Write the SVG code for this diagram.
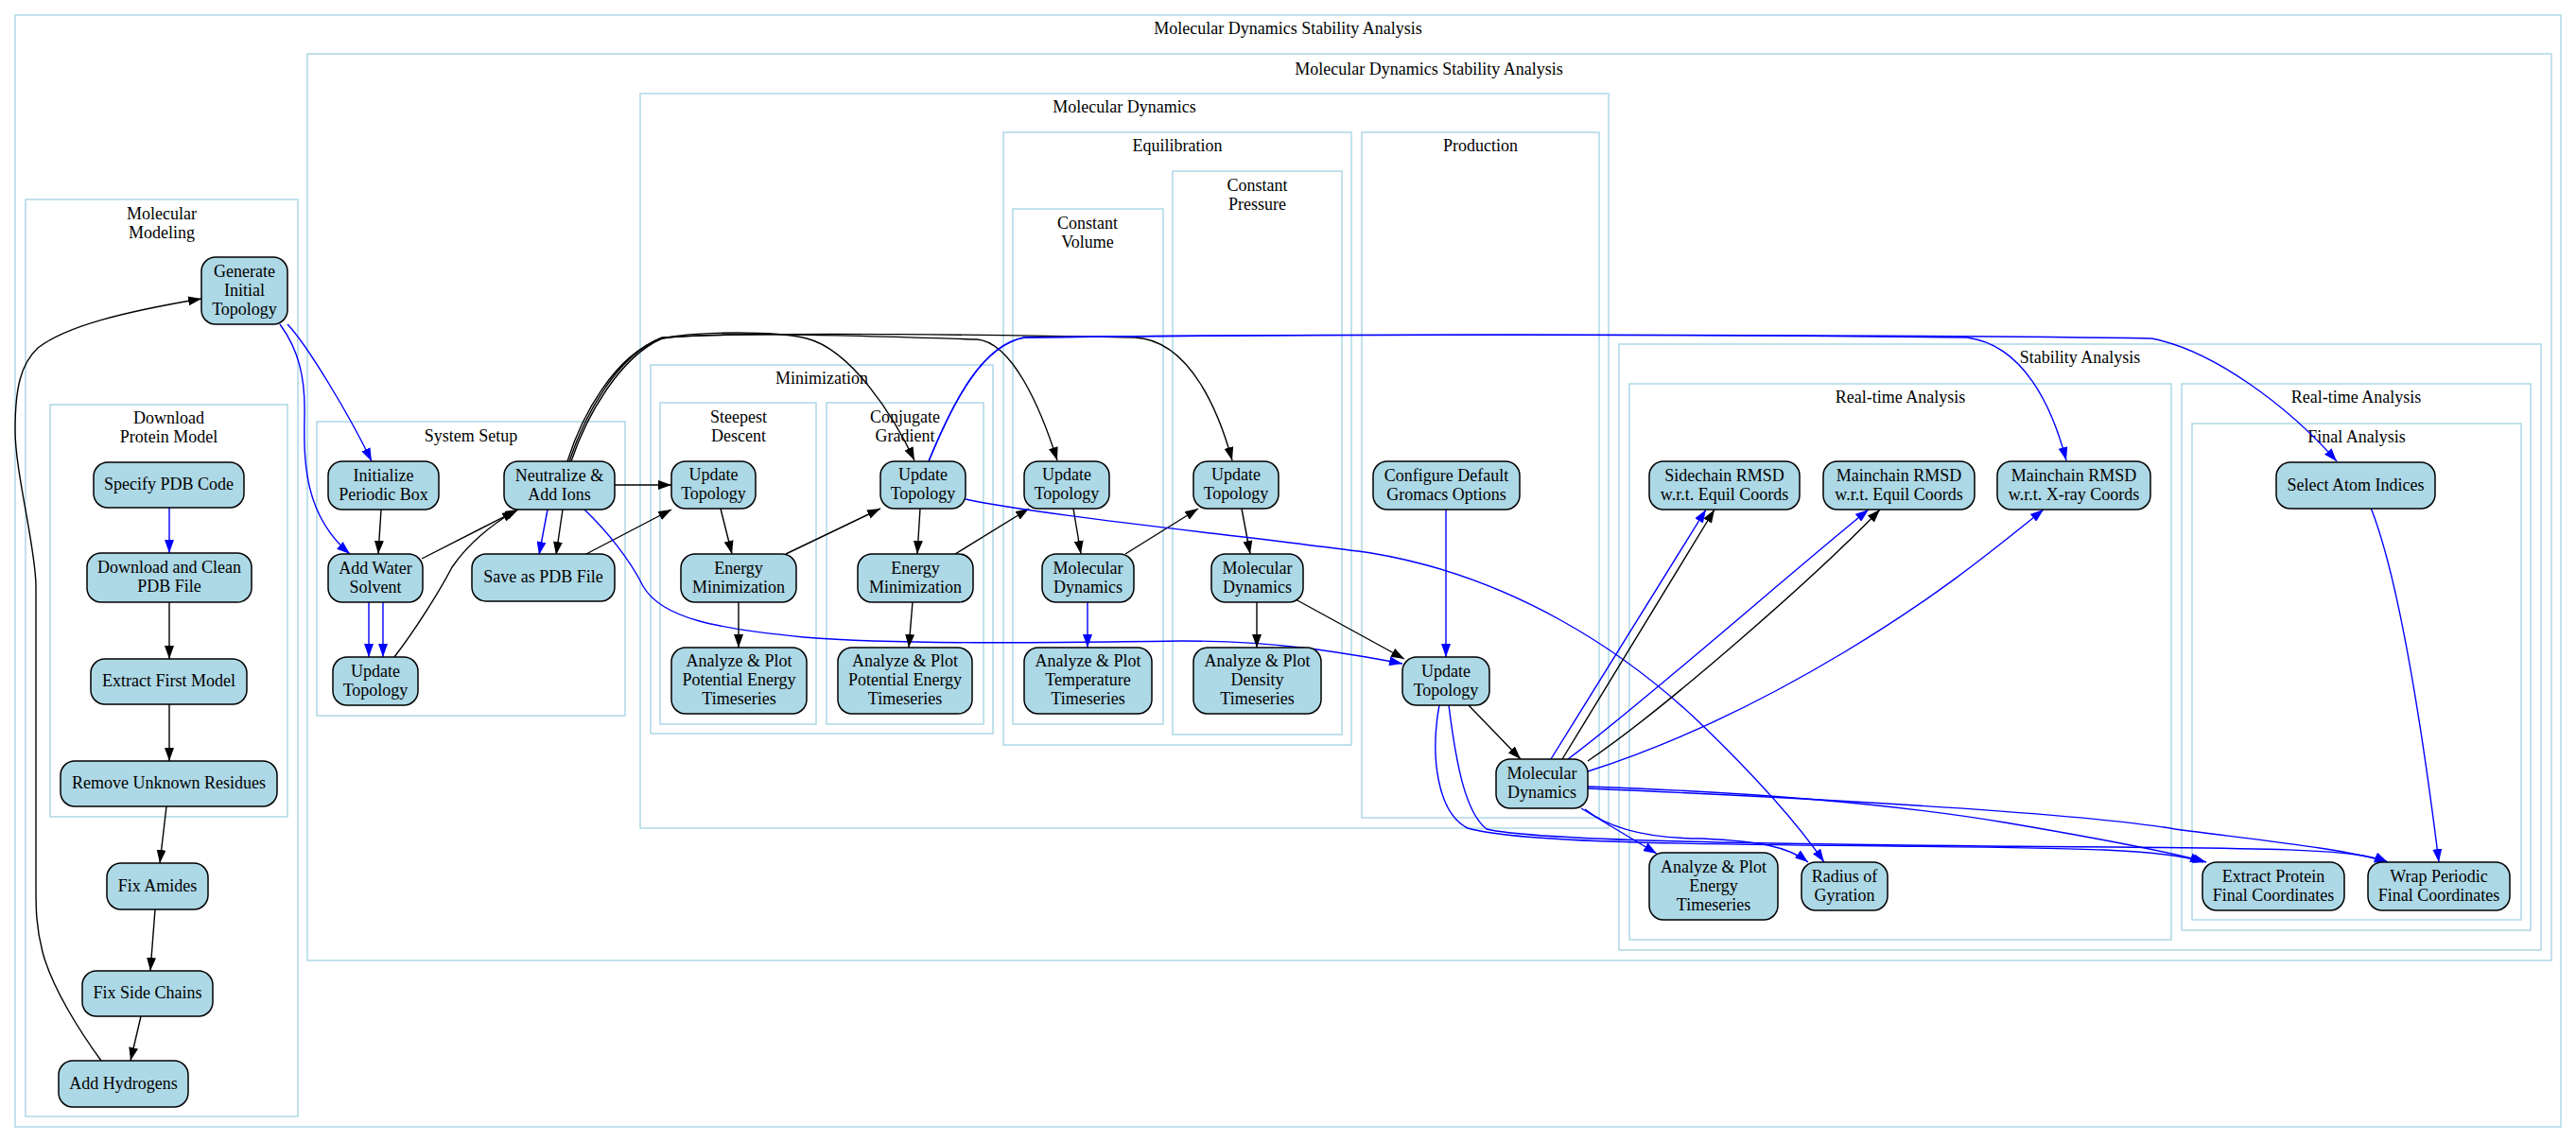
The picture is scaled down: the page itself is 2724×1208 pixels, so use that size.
<svg xmlns="http://www.w3.org/2000/svg" width="2724" height="1208" viewBox="0 0 2724 1208">
<defs>
<style>
.cl{fill:none;stroke:#add8e6;stroke-width:1.5}
.nd rect{fill:#add8e6;stroke:#000;stroke-width:1.5}
text{font-family:"Liberation Serif","Times New Roman",serif;font-size:18px;text-anchor:middle;fill:#000}
.e{fill:none;stroke:#000;stroke-width:1.4;marker-end:url(#ak)}
.b{fill:none;stroke:#0000ff;stroke-width:1.4;marker-end:url(#ab)}
</style>
<marker id="ak" markerUnits="userSpaceOnUse" markerWidth="14" markerHeight="10" refX="14" refY="5" orient="auto"><path d="M0,0 L14,5 L0,10 z" fill="#000"/></marker>
<marker id="ab" markerUnits="userSpaceOnUse" markerWidth="14" markerHeight="10" refX="14" refY="5" orient="auto"><path d="M0,0 L14,5 L0,10 z" fill="#0000ff"/></marker>
</defs>
<rect width="2724" height="1208" fill="#fff"/>
<g id="clusters">
<rect class="cl" x="16" y="16" width="2692" height="1176"/><text x="1362" y="36">Molecular Dynamics Stability Analysis</text>
<rect class="cl" x="325" y="57" width="2373" height="959"/><text x="1511" y="79">Molecular Dynamics Stability Analysis</text>
<rect class="cl" x="27" y="211" width="288" height="970"/><text x="171" y="232">Molecular</text><text x="171" y="252">Modeling</text>
<rect class="cl" x="53" y="428" width="251" height="436"/><text x="178.5" y="448">Download</text><text x="178.5" y="468">Protein Model</text>
<rect class="cl" x="335" y="446" width="326" height="311"/><text x="498" y="467">System Setup</text>
<rect class="cl" x="677" y="99" width="1024" height="777"/><text x="1189" y="119">Molecular Dynamics</text>
<rect class="cl" x="688" y="386" width="362" height="390"/><text x="869" y="406">Minimization</text>
<rect class="cl" x="698" y="426" width="165" height="340"/><text x="781" y="447">Steepest</text><text x="781" y="467">Descent</text>
<rect class="cl" x="874" y="426" width="166" height="340"/><text x="957" y="447">Conjugate</text><text x="957" y="467">Gradient</text>
<rect class="cl" x="1061" y="140" width="368" height="648"/><text x="1245" y="160">Equilibration</text>
<rect class="cl" x="1071" y="221" width="159" height="545"/><text x="1150" y="242">Constant</text><text x="1150" y="262">Volume</text>
<rect class="cl" x="1240" y="181" width="179" height="596"/><text x="1329.5" y="202">Constant</text><text x="1329.5" y="222">Pressure</text>
<rect class="cl" x="1440" y="140" width="251" height="725"/><text x="1565.5" y="160">Production</text>
<rect class="cl" x="1712" y="364" width="975" height="641"/><text x="2199.5" y="384">Stability Analysis</text>
<rect class="cl" x="1723" y="406" width="573" height="588"/><text x="2009.5" y="426">Real-time Analysis</text>
<rect class="cl" x="2307" y="406" width="369" height="578"/><text x="2491.5" y="426">Real-time Analysis</text>
<rect class="cl" x="2318" y="448" width="348" height="525"/><text x="2492" y="468">Final Analysis</text>
</g>
<g id="edges">
<path class="b" d="M179,537 L179,585"/>
<path class="e" d="M179,637 L179,697"/>
<path class="e" d="M179,745 L179,805"/>
<path class="e" d="M176,853 L169,913"/>
<path class="e" d="M164,962 L159,1027"/>
<path class="e" d="M149,1075 L138,1122"/>
<path class="e" d="M107,1122 C85,1092 55,1045 45,1007 C38,980 38,960 38,940 L38,620 C38,580 16,500 16,455 C16,410 22,385 40,368 C70,345 130,330 213,316"/>
<path class="b" d="M304,343 C325,365 370,440 393,488"/>
<path class="b" d="M296,343 C316,370 323,400 322,440 C321,490 322,545 370,586"/>
<path class="e" d="M403,539 L400,586"/>
<path class="e" d="M446,591 L548,539"/>
<path class="b" d="M390,637 L390,695"/>
<path class="b" d="M405,637 L405,695"/>
<path class="e" d="M417,695 C440,665 465,625 478,600 C495,575 520,555 545,540"/>
<path class="b" d="M579,539 L570,587"/>
<path class="e" d="M595,539 L588,587"/>
<path class="e" d="M650,513 L710,513"/>
<path class="e" d="M618,587 L710,539"/>
<path class="b" d="M618,539 C640,560 665,590 680,620 C700,655 760,665 850,674 C950,682 1100,680 1250,678 C1350,678 1420,690 1483,702"/>
<path class="e" d="M600,488 C615,440 650,375 700,358 C740,350 820,350 853,358 C900,370 945,440 967,487"/>
<path class="e" d="M604,488 C620,440 655,378 700,358 C760,350 900,355 1033,359 C1070,362 1100,430 1118,487"/>
<path class="e" d="M602,488 C618,440 652,376 700,357 C800,350 1100,355 1200,357 C1260,360 1290,440 1303,487"/>
<path class="b" d="M982,488 C1010,420 1040,365 1083,357 C1500,352 1900,355 2080,357 C2140,365 2170,430 2185,487"/>
<path class="b" d="M982,488 C1010,420 1040,365 1083,357 C1500,352 2100,355 2275,358 C2340,370 2420,430 2471,488"/>
<path class="e" d="M762,538 L774,586"/>
<path class="e" d="M781,637 L781,685"/>
<path class="e" d="M831,586 L931,538"/>
<path class="e" d="M973,538 L970,586"/>
<path class="e" d="M965,637 L961,685"/>
<path class="e" d="M1010,586 L1088,538"/>
<path class="e" d="M1135,538 L1143,586"/>
<path class="b" d="M1150,637 L1150,685"/>
<path class="e" d="M1190,586 L1267,538"/>
<path class="e" d="M1313,538 L1322,586"/>
<path class="e" d="M1329,637 L1329,685"/>
<path class="e" d="M1370,634 L1485,697"/>
<path class="b" d="M1021,528 C1100,545 1300,565 1450,585 C1600,610 1720,690 1800,767 C1860,825 1900,870 1929,912"/>
<path class="b" d="M1529,539 L1529,695"/>
<path class="e" d="M1553,746 L1608,803"/>
<path class="b" d="M1522,746 C1512,800 1520,860 1552,876 C1600,890 1750,893 2000,895 C2200,897 2290,898 2330,912"/>
<path class="b" d="M1532,746 C1540,810 1550,860 1572,877 C1620,888 1800,892 2100,895 C2400,897 2490,897 2525,912"/>
<path class="b" d="M1640,803 L1804,539"/>
<path class="e" d="M1652,803 L1813,539"/>
<path class="b" d="M1658,803 C1730,750 1900,600 1976,539"/>
<path class="e" d="M1679,805 C1760,750 1920,610 1988,539"/>
<path class="b" d="M1679,816 C1760,790 1850,750 1950,690 C2050,630 2110,580 2161,539"/>
<path class="b" d="M1679,832 C1850,838 2000,850 2120,870 C2220,887 2290,900 2333,912"/>
<path class="b" d="M1679,834 C1950,846 2200,860 2300,877 C2400,890 2480,898 2525,912"/>
<path class="b" d="M1672,855 L1752,903"/>
<path class="b" d="M1676,856 C1700,875 1740,887 1800,887 C1860,890 1890,895 1912,912"/>
<path class="b" d="M2507,537 C2540,620 2565,800 2579,912"/>
</g>
<g id="gen" class="nd"><rect x="213" y="272" width="91" height="71" rx="15"/><text x="258.5" y="293">Generate</text><text x="258.5" y="313">Initial</text><text x="258.5" y="333">Topology</text></g>
<g id="spec" class="nd"><rect x="99" y="489" width="159" height="48" rx="15"/><text x="178.5" y="518">Specify PDB Code</text></g>
<g id="dl" class="nd"><rect x="92" y="585" width="174" height="52" rx="15"/><text x="179" y="606">Download and Clean</text><text x="179" y="626">PDB File</text></g>
<g id="ext" class="nd"><rect x="96" y="697" width="165" height="48" rx="15"/><text x="178.5" y="726">Extract First Model</text></g>
<g id="rem" class="nd"><rect x="64" y="805" width="229" height="48" rx="15"/><text x="178.5" y="834">Remove Unknown Residues</text></g>
<g id="amide" class="nd"><rect x="113" y="913" width="107" height="49" rx="15"/><text x="166.5" y="942.5">Fix Amides</text></g>
<g id="side" class="nd"><rect x="87" y="1027" width="138" height="48" rx="15"/><text x="156" y="1056">Fix Side Chains</text></g>
<g id="hyd" class="nd"><rect x="62" y="1122" width="137" height="49" rx="15"/><text x="130.5" y="1151.5">Add Hydrogens</text></g>
<g id="init" class="nd"><rect x="347" y="488" width="117" height="51" rx="15"/><text x="405.5" y="508.5">Initialize</text><text x="405.5" y="528.5">Periodic Box</text></g>
<g id="water" class="nd"><rect x="347" y="586" width="100" height="51" rx="15"/><text x="397" y="606.5">Add Water</text><text x="397" y="626.5">Solvent</text></g>
<g id="neut" class="nd"><rect x="533" y="488" width="117" height="51" rx="15"/><text x="591.5" y="508.5">Neutralize &amp;</text><text x="591.5" y="528.5">Add Ions</text></g>
<g id="save" class="nd"><rect x="499" y="586" width="151" height="50" rx="15"/><text x="574.5" y="616">Save as PDB File</text></g>
<g id="ut_ss" class="nd"><rect x="352" y="695" width="90" height="51" rx="15"/><text x="397" y="715.5">Update</text><text x="397" y="735.5">Topology</text></g>
<g id="ut_sd" class="nd"><rect x="710" y="488" width="89" height="50" rx="15"/><text x="754.5" y="508">Update</text><text x="754.5" y="528">Topology</text></g>
<g id="em_sd" class="nd"><rect x="720" y="586" width="122" height="51" rx="15"/><text x="781" y="606.5">Energy</text><text x="781" y="626.5">Minimization</text></g>
<g id="an_sd" class="nd"><rect x="710" y="685" width="143" height="70" rx="15"/><text x="781.5" y="705">Analyze &amp; Plot</text><text x="781.5" y="725">Potential Energy</text><text x="781.5" y="745">Timeseries</text></g>
<g id="ut_cg" class="nd"><rect x="931" y="488" width="90" height="50" rx="15"/><text x="976" y="508">Update</text><text x="976" y="528">Topology</text></g>
<g id="em_cg" class="nd"><rect x="907" y="586" width="122" height="51" rx="15"/><text x="968" y="606.5">Energy</text><text x="968" y="626.5">Minimization</text></g>
<g id="an_cg" class="nd"><rect x="886" y="685" width="142" height="70" rx="15"/><text x="957" y="705">Analyze &amp; Plot</text><text x="957" y="725">Potential Energy</text><text x="957" y="745">Timeseries</text></g>
<g id="ut_cv" class="nd"><rect x="1083" y="488" width="90" height="50" rx="15"/><text x="1128" y="508">Update</text><text x="1128" y="528">Topology</text></g>
<g id="md_cv" class="nd"><rect x="1102" y="586" width="97" height="51" rx="15"/><text x="1150.5" y="606.5">Molecular</text><text x="1150.5" y="626.5">Dynamics</text></g>
<g id="an_t" class="nd"><rect x="1083" y="685" width="135" height="70" rx="15"/><text x="1150.5" y="705">Analyze &amp; Plot</text><text x="1150.5" y="725">Temperature</text><text x="1150.5" y="745">Timeseries</text></g>
<g id="ut_cp" class="nd"><rect x="1262" y="488" width="90" height="50" rx="15"/><text x="1307" y="508">Update</text><text x="1307" y="528">Topology</text></g>
<g id="md_cp" class="nd"><rect x="1281" y="586" width="97" height="51" rx="15"/><text x="1329.5" y="606.5">Molecular</text><text x="1329.5" y="626.5">Dynamics</text></g>
<g id="an_d" class="nd"><rect x="1262" y="685" width="135" height="70" rx="15"/><text x="1329.5" y="705">Analyze &amp; Plot</text><text x="1329.5" y="725">Density</text><text x="1329.5" y="745">Timeseries</text></g>
<g id="cfg" class="nd"><rect x="1452" y="488" width="155" height="51" rx="15"/><text x="1529.5" y="508.5">Configure Default</text><text x="1529.5" y="528.5">Gromacs Options</text></g>
<g id="ut_p" class="nd"><rect x="1483" y="695" width="92" height="51" rx="15"/><text x="1529" y="715.5">Update</text><text x="1529" y="735.5">Topology</text></g>
<g id="md_p" class="nd"><rect x="1582" y="803" width="97" height="52" rx="15"/><text x="1630.5" y="824">Molecular</text><text x="1630.5" y="844">Dynamics</text></g>
<g id="sc" class="nd"><rect x="1744" y="488" width="159" height="51" rx="15"/><text x="1823.5" y="508.5">Sidechain RMSD</text><text x="1823.5" y="528.5">w.r.t. Equil Coords</text></g>
<g id="mce" class="nd"><rect x="1928" y="488" width="160" height="51" rx="15"/><text x="2008" y="508.5">Mainchain RMSD</text><text x="2008" y="528.5">w.r.t. Equil Coords</text></g>
<g id="mcx" class="nd"><rect x="2112" y="488" width="162" height="51" rx="15"/><text x="2193" y="508.5">Mainchain RMSD</text><text x="2193" y="528.5">w.r.t. X-ray Coords</text></g>
<g id="sel" class="nd"><rect x="2407" y="489" width="168" height="49" rx="15"/><text x="2491" y="518.5">Select Atom Indices</text></g>
<g id="ane" class="nd"><rect x="1744" y="902" width="136" height="71" rx="15"/><text x="1812" y="922.5">Analyze &amp; Plot</text><text x="1812" y="942.5">Energy</text><text x="1812" y="962.5">Timeseries</text></g>
<g id="rg" class="nd"><rect x="1905" y="912" width="91" height="51" rx="15"/><text x="1950.5" y="932.5">Radius of</text><text x="1950.5" y="952.5">Gyration</text></g>
<g id="extp" class="nd"><rect x="2329" y="912" width="150" height="51" rx="15"/><text x="2404" y="932.5">Extract Protein</text><text x="2404" y="952.5">Final Coordinates</text></g>
<g id="wrap" class="nd"><rect x="2504" y="912" width="150" height="51" rx="15"/><text x="2579" y="932.5">Wrap Periodic</text><text x="2579" y="952.5">Final Coordinates</text></g>
</svg>
